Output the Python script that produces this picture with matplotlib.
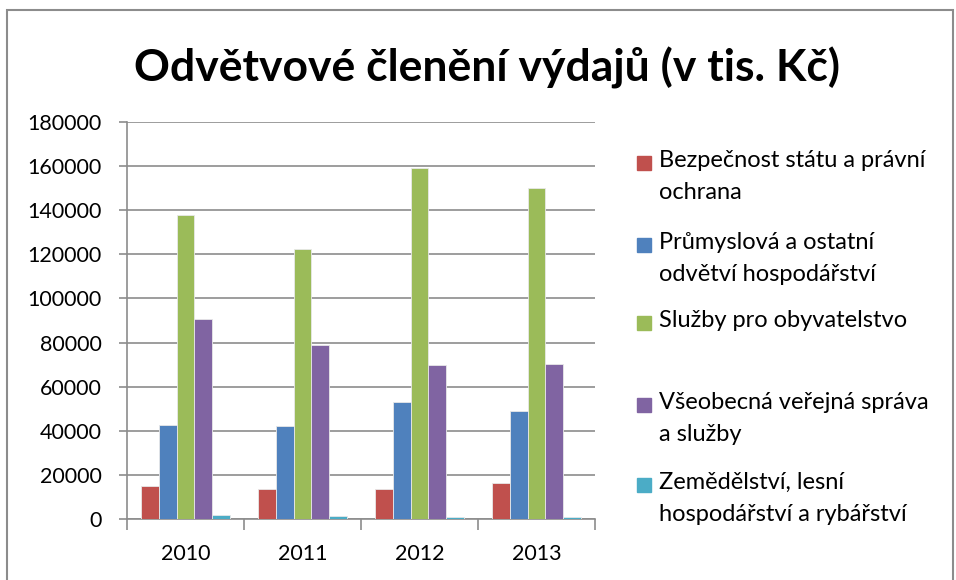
import matplotlib
matplotlib.use("Agg")
import matplotlib.pyplot as plt
from matplotlib.patches import Rectangle
import numpy as np

plt.rcParams['font.family'] = ['Lato', 'DejaVu Sans']

# data (tis. Kč)
years = ["2010", "2011", "2012", "2013"]
bezpecnost = [15000, 13700, 13700, 16300]
prumysl = [42600, 42200, 53000, 49000]
sluzby_obyv = [137800, 122400, 159100, 150000]
verejna_sprava = [90700, 78900, 69800, 70300]
zemedelstvi = [1700, 1200, 900, 900]

labels = ["Bezpečnost státu a právní\nochrana",
          "Průmyslová a ostatní\nodvětví hospodářství",
          "Služby pro obyvatelstvo",
          "Všeobecná veřejná správa\na služby",
          "Zemědělství, lesní\nhospodářství a rybářství"]
colors = ["#C0504D", "#4F81BD", "#9BBB59", "#8064A2", "#4BACC6"]
series = [bezpecnost, prumysl, sluzby_obyv, verejna_sprava, zemedelstvi]

W, H = 956, 580
fig = plt.figure(figsize=(W / 100, H / 100), dpi=100)
ax = fig.add_axes([127 / W, 1 - 519 / H, 468 / W, 397 / H])

x = np.arange(len(years))
bw = 0.151
for i, (vals, c) in enumerate(zip(series, colors)):
    ax.bar(x + (i - 2) * bw, vals, bw, color=c, edgecolor="#e8e8e8",
           linewidth=0.6, zorder=3)

ax.set_xlim(-0.5, 3.5)
ax.set_ylim(0, 180000)
ax.set_yticks(np.arange(0, 180001, 20000))
ax.set_yticklabels([str(v) for v in range(0, 180001, 20000)], fontsize=15.5)
ax.set_xticks(x)
ax.set_xticklabels(years, fontsize=15.5)
ax.set_xticks(np.arange(-0.5, 3.6, 1), minor=True)
ax.tick_params(axis="x", which="major", length=0, pad=18)
ax.tick_params(axis="x", which="minor", length=8, color="#8c8c8c", width=1.2)
ax.tick_params(axis="y", length=6, color="#8c8c8c", width=1.2, pad=12)
ax.grid(axis="y", color="#8c8c8c", linewidth=1.2, zorder=0)
for s in ["top", "right"]:
    ax.spines[s].set_visible(False)
for s in ["left", "bottom"]:
    ax.spines[s].set_color("#8c8c8c")
    ax.spines[s].set_linewidth(1.2)

fig.text(487 / W, 1 - 68 / H, "Odvětvové členění výdajů (v tis. Kč)",
         ha="center", va="center", fontsize=32, fontweight="bold")

# legend drawn manually to keep the first-line alignment
ys = [163, 245, 323, 405, 485]
for lab, c, y in zip(labels, colors, ys):
    fig.patches.append(Rectangle((637 / W, 1 - (y + 7) / H), 14 / W, 14 / H,
                                 transform=fig.transFigure, color=c))
    fig.text(659 / W, 1 - (y - 13) / H, lab, ha="left", va="top",
             fontsize=17, linespacing=1.65)

# chart border
fig.patches.append(Rectangle((7 / W, -0.05), 946 / W, 1 - 10 / H + 0.05,
                             transform=fig.transFigure, fill=False,
                             edgecolor="#8c8c8c", linewidth=1.5))

fig.savefig("out.png", dpi=100)
